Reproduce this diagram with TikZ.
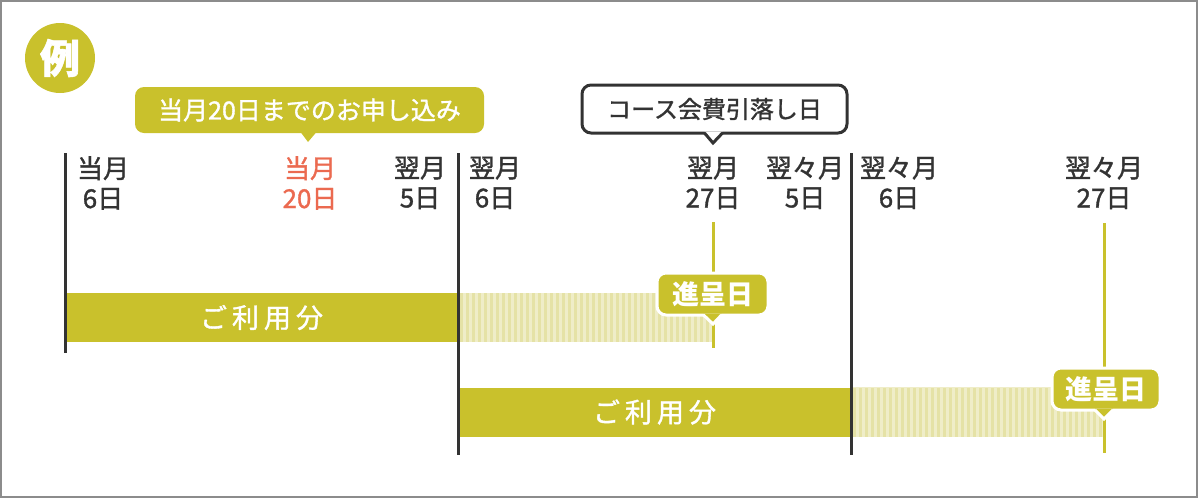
\documentclass[tikz,border=0pt]{standalone}
\usepackage{fontspec}
\setmainfont{Noto Sans CJK JP}
\newfontfamily\medium{Noto Sans CJK JP}[FakeBold=1.3]
\definecolor{ygreen}{HTML}{C9C12C}
\definecolor{ypale}{HTML}{EFEDC8}
\definecolor{ystripe}{HTML}{E5E2A6}
\definecolor{ink}{HTML}{333333}
\definecolor{salmon}{HTML}{EB6A50}
\definecolor{frame}{HTML}{8C8C8C}
\newcommand{\fs}[1]{\fontsize{#1}{#1}\selectfont}

\begin{document}
\begin{tikzpicture}[x=1pt,y=-1pt]
\tikzstyle{day}=[align=center,text=ink,inner sep=0pt,font=\medium\fontsize{26}{30}\selectfont]
\tikzstyle{bar}=[fill=ygreen,text=white,inner sep=0pt,minimum height=49pt,font=\medium\fs{27}]
\tikzstyle{tag}=[fill=ygreen,text=white,inner sep=0pt,outer sep=0pt,rounded corners=9pt]
\tikzstyle{divline}=[ink,line width=3pt]
\tikzstyle{pay}=[ygreen,line width=3pt]
\useasboundingbox (0,0) rectangle (1198,498);
\draw[frame,line width=2pt] (1,1) rectangle (1197,497);

% badge
\path (60,58) node[circle,fill=ygreen,text=white,minimum size=70pt,inner sep=0pt,font=\fs{40}\bfseries\addfontfeature{FakeBold=1.5}](ex){例};

% days
\path (103,183) node[day](d6){当月\\6日} (310,183) node[day,text=salmon](d20){当月\\20日} (420,183) node[day](d5){翌月\\5日};
\path (495,183) node[day](n6){翌月\\6日} (713,183) node[day](n27){翌月\\27日} (805,183) node[day](n5){翌々月\\5日};
\path (899,183) node[day](nn6){翌々月\\6日} (1104,183) node[day](nn27){翌々月\\27日};

% bars
\path (261.5,317.5) node[bar,minimum width=393pt](use1){ご\kern5pt 利\kern5pt 用\kern5pt 分};
\path (654.5,412) node[bar,minimum width=393pt](use2){ご\kern5pt 利\kern5pt 用\kern5pt 分};
\fill[ypale] (use1.north east) rectangle (713,342);
\foreach \x in {460,466,...,710} \fill[ystripe] (\x,293) rectangle ++(3,49);
\fill[ypale] (use2.north east) rectangle (1104,436.5);
\foreach \x in {853,859,...,1101} \fill[ystripe] (\x,387.5) rectangle ++(3,49);

% period lines
\coordinate (a0) at (65,153); \coordinate (a1) at (65,353);
\coordinate (b0) at (458,153); \coordinate (b1) at (458,455);
\coordinate (c0) at (851,153); \coordinate (c1) at (851,455);
\draw[divline] (a0) -- (a1);
\draw[divline] (b0) -- (b1);
\draw[divline] (c0) -- (c1);
\coordinate (p0) at (713,222); \coordinate (p1) at (713,348);
\coordinate (q0) at (1104,223); \coordinate (q1) at (1104,453);
\draw[pay] (p0) -- (p1);
\draw[pay] (q0) -- (q1);

% callouts
\path (309.5,110) node[tag,minimum width=349pt,minimum height=46pt,font=\medium\fs{25}](apply){当月20日までのお申し込み};
\fill[ygreen] ([xshift=-9pt,yshift=1pt]apply.south) -- ([xshift=-1.5pt,yshift=-9pt]apply.south) -- ([xshift=7pt,yshift=1pt]apply.south) -- cycle;

\path (714.5,109) node[tag,fill=white,draw=ink,line width=3pt,text=ink,minimum width=265pt,minimum height=48pt,font=\medium\fs{24}](debit){コース会費引落し日};
\fill[white] ([xshift=-10pt,yshift=1.5pt]debit.south) -- ([xshift=-1.5pt,yshift=-10pt]debit.south) -- ([xshift=8pt,yshift=1.5pt]debit.south) -- cycle;
\draw[ink,line width=3pt,line join=miter] ([xshift=-10pt]debit.south) -- ([xshift=-1.5pt,yshift=-10pt]debit.south) -- ([xshift=8pt]debit.south);

\path (712.5,294) node[tag,draw=white,line width=3pt,minimum width=111pt,minimum height=42pt,font=\fs{27}\bfseries](gift1){進呈日};
\fill[ygreen] ([xshift=-9pt,yshift=1.5pt]gift1.south) -- ([xshift=0.5pt,yshift=-9pt]gift1.south) -- ([xshift=9pt,yshift=1.5pt]gift1.south) -- cycle;
\draw[white,line width=3pt] ([xshift=-9pt]gift1.south) -- ([xshift=0.5pt,yshift=-9pt]gift1.south) -- ([xshift=9pt]gift1.south);

\path (1106,389) node[tag,draw=white,line width=3pt,minimum width=108pt,minimum height=42pt,font=\fs{27}\bfseries](gift2){進呈日};
\fill[ygreen] ([xshift=-11pt,yshift=1.5pt]gift2.south) -- ([xshift=-2pt,yshift=-9pt]gift2.south) -- ([xshift=7pt,yshift=1.5pt]gift2.south) -- cycle;
\draw[white,line width=3pt] ([xshift=-11pt]gift2.south) -- ([xshift=-2pt,yshift=-9pt]gift2.south) -- ([xshift=7pt]gift2.south);
\end{tikzpicture}
\end{document}
